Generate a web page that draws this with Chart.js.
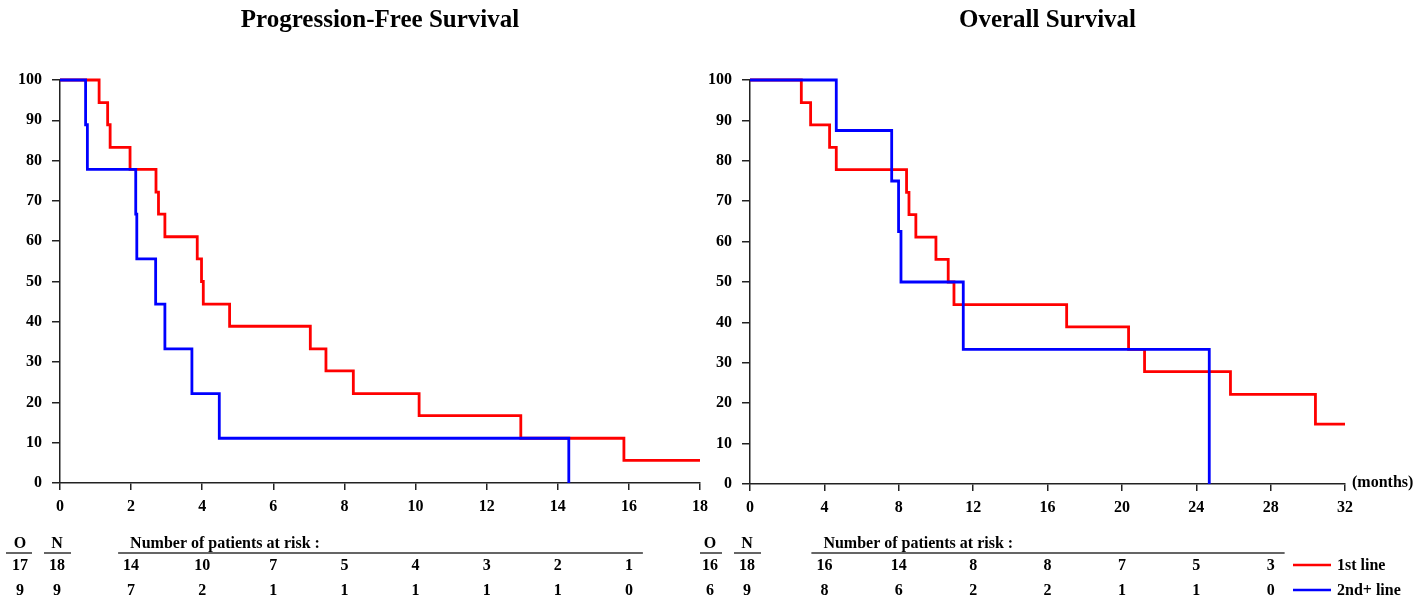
<!DOCTYPE html>
<html>
<head>
<meta charset="utf-8">
<script src="https://cdn.jsdelivr.net/npm/chart.js@4.4.0/dist/chart.umd.min.js"></script>
<style>
  html, body { margin: 0; padding: 0; background: #fff; }
  #wrap { position: relative; width: 1419px; height: 605px; overflow: hidden; }
  canvas { position: absolute; top: 0; }
  #pfsChart { left: 0; }
  #osChart { left: 700px; }
</style>
</head>
<body>
<div id="wrap">
  <canvas id="pfsChart" width="715" height="605"></canvas>
  <canvas id="osChart" width="719" height="605"></canvas>
</div>
<script>
// Kaplan-Meier steps: time of event (months) and survival (%) after the drop
var pfsFirstTimes = [0, 1.1, 1.34, 1.41, 1.97, 2.7, 2.77, 2.95, 3.86, 3.98, 4.03, 4.77, 7.04, 7.48, 8.25, 10.1, 12.96, 15.86, 18];
var pfsFirstSurv = [100, 94.4, 88.9, 83.3, 77.8, 72.2, 66.7, 61.1, 55.6, 50, 44.4, 38.9, 33.3, 27.8, 22.2, 16.7, 11.1, 5.6, 5.6];
var pfsSecondTimes = [0, 0.72, 0.77, 2.13, 2.16, 2.69, 2.95, 3.71, 4.48, 14.31];
var pfsSecondSurv = [100, 88.9, 77.8, 66.7, 55.6, 44.4, 33.3, 22.2, 11.1, 0];

var osFirstTimes = [0, 2.76, 3.26, 4.28, 4.64, 8.42, 8.55, 8.92, 10.0, 10.66, 10.97, 17.03, 20.36, 21.22, 25.84, 30.41, 32];
var osFirstSurv = [100, 94.4, 88.9, 83.3, 77.8, 72.2, 66.7, 61.1, 55.6, 50, 44.4, 38.9, 33.3, 27.8, 22.2, 14.8, 14.8];
var osSecondTimes = [0, 4.64, 7.62, 7.99, 8.12, 11.47, 24.7];
var osSecondSurv = [100, 87.5, 75, 62.5, 50, 33.3, 0];

// number at risk tables
var pfsRiskTimes = [2, 4, 6, 8, 10, 12, 14, 16];
var pfsRiskFirst = [14, 10, 7, 5, 4, 3, 2, 1];
var pfsRiskSecond = [7, 2, 1, 1, 1, 1, 1, 0];
var pfsEvents = [17, 9];
var pfsPatients = [18, 9];

var osRiskTimes = [4, 8, 12, 16, 20, 24, 28];
var osRiskFirst = [16, 14, 8, 8, 7, 5, 3];
var osRiskSecond = [8, 6, 2, 2, 1, 1, 0];
var osEvents = [16, 6];
var osPatients = [18, 9];

var groupNames = ['1st line', '2nd+ line'];
var groupColors = ['#ff0000', '#0000ff'];

var FONT = '"Liberation Serif", "Times New Roman", serif';
var AXIS = '#222';

function toPoints(times, surv) {
    return times.map(function(t, i) { return { x: t, y: surv[i] }; });
}

// title, risk table, legend, axis unit
function kmExtras(cfg) {
    return {
        id: 'kmExtras',
        afterDraw: function(chart) {
            var ctx = chart.ctx;
            var area = chart.chartArea;
            var xs = chart.scales.x;
            ctx.save();
            ctx.fillStyle = '#000';
            ctx.textBaseline = 'middle';

            ctx.font = 'bold 25px ' + FONT;
            ctx.textAlign = 'center';
            ctx.fillText(cfg.title, (area.left + area.right) / 2, 21);

            ctx.font = 'bold 16px ' + FONT;
            var headY = 544, lineY = 553, rowY = [566, 591];
            var oX = area.left - 40, nX = area.left - 3;
            ctx.fillText('O', oX, headY);
            ctx.fillText('N', nX, headY);
            ctx.strokeStyle = '#333';
            ctx.lineWidth = 1.5;
            ctx.beginPath();
            ctx.moveTo(oX - 14, lineY); ctx.lineTo(oX + 12, lineY);
            ctx.moveTo(nX - 13, lineY); ctx.lineTo(nX + 14, lineY);
            var x0 = xs.getPixelForValue(cfg.riskTimes[0]);
            var x1 = xs.getPixelForValue(cfg.riskTimes[cfg.riskTimes.length - 1]);
            ctx.moveTo(x0 - 13, lineY); ctx.lineTo(x1 + 14, lineY);
            ctx.stroke();

            ctx.textAlign = 'left';
            ctx.fillText('Number of patients at risk :', x0 - 1, headY);

            ctx.textAlign = 'center';
            [cfg.riskFirst, cfg.riskSecond].forEach(function(row, r) {
                ctx.fillText(String(cfg.events[r]), oX, rowY[r]);
                ctx.fillText(String(cfg.patients[r]), nX, rowY[r]);
                row.forEach(function(v, i) {
                    ctx.fillText(String(v), xs.getPixelForValue(cfg.riskTimes[i]), rowY[r]);
                });
            });

            if (cfg.legend) {
                ctx.textAlign = 'left';
                groupNames.forEach(function(name, r) {
                    ctx.strokeStyle = groupColors[r];
                    ctx.lineWidth = 2.5;
                    ctx.beginPath();
                    ctx.moveTo(area.right - 52, rowY[r] - 1);
                    ctx.lineTo(area.right - 14, rowY[r] - 1);
                    ctx.stroke();
                    ctx.fillText(name, area.right - 8, rowY[r]);
                });
            }
            if (cfg.unit) {
                ctx.textAlign = 'left';
                ctx.fillText(cfg.unit, area.right + 7, area.bottom - 1);
            }
            ctx.restore();
        }
    };
}

function makeChart(id, firstPts, secondPts, xMax, xStep, yWidth, pad, extras) {
    var tickFont = { family: FONT, size: 16, weight: 'bold' };
    return new Chart(document.getElementById(id).getContext('2d'), {
        type: 'line',
        data: {
            datasets: [{
                label: groupNames[0],
                data: firstPts,
                borderColor: groupColors[0],
                borderWidth: 2.8,
                stepped: 'before',
                pointRadius: 0,
                fill: false,
                clip: false,
                order: 2
            }, {
                label: groupNames[1],
                data: secondPts,
                borderColor: groupColors[1],
                borderWidth: 2.8,
                stepped: 'before',
                pointRadius: 0,
                fill: false,
                clip: false,
                order: 1
            }]
        },
        options: {
            responsive: false,
            animation: false,
            devicePixelRatio: 1,
            layout: { padding: pad },
            scales: {
                x: {
                    type: 'linear',
                    min: 0,
                    max: xMax,
                    afterFit: function(s) { s.height = 30; },
                    ticks: { stepSize: xStep, font: tickFont, color: '#000', padding: 7, maxRotation: 0, autoSkip: false },
                    grid: { drawOnChartArea: false, tickLength: 7, color: AXIS, lineWidth: 1.5 },
                    border: { color: AXIS, width: 1.5 }
                },
                y: {
                    min: 0,
                    max: 100,
                    afterFit: function(s) { s.width = yWidth; },
                    ticks: { stepSize: 10, font: tickFont, color: '#000', padding: 10 },
                    grid: { drawOnChartArea: false, tickLength: 8, color: AXIS, lineWidth: 1.5 },
                    border: { color: AXIS, width: 1.5 }
                }
            },
            plugins: {
                legend: { display: false },
                tooltip: { enabled: false },
                title: { display: false }
            }
        },
        plugins: [kmExtras(extras)]
    });
}

makeChart('pfsChart',
    toPoints(pfsFirstTimes, pfsFirstSurv),
    toPoints(pfsSecondTimes, pfsSecondSurv),
    18, 2, 60,
    { left: 0, right: 15, top: 80, bottom: 92 },
    {
        title: 'Progression-Free Survival',
        riskTimes: pfsRiskTimes, riskFirst: pfsRiskFirst, riskSecond: pfsRiskSecond,
        events: pfsEvents, patients: pfsPatients, legend: false, unit: null
    });

makeChart('osChart',
    toPoints(osFirstTimes, osFirstSurv),
    toPoints(osSecondTimes, osSecondSurv),
    32, 4, 50,
    { left: 0, right: 74, top: 80, bottom: 91 },
    {
        title: 'Overall Survival',
        riskTimes: osRiskTimes, riskFirst: osRiskFirst, riskSecond: osRiskSecond,
        events: osEvents, patients: osPatients, legend: true, unit: '(months)'
    });
</script>
</body>
</html>
